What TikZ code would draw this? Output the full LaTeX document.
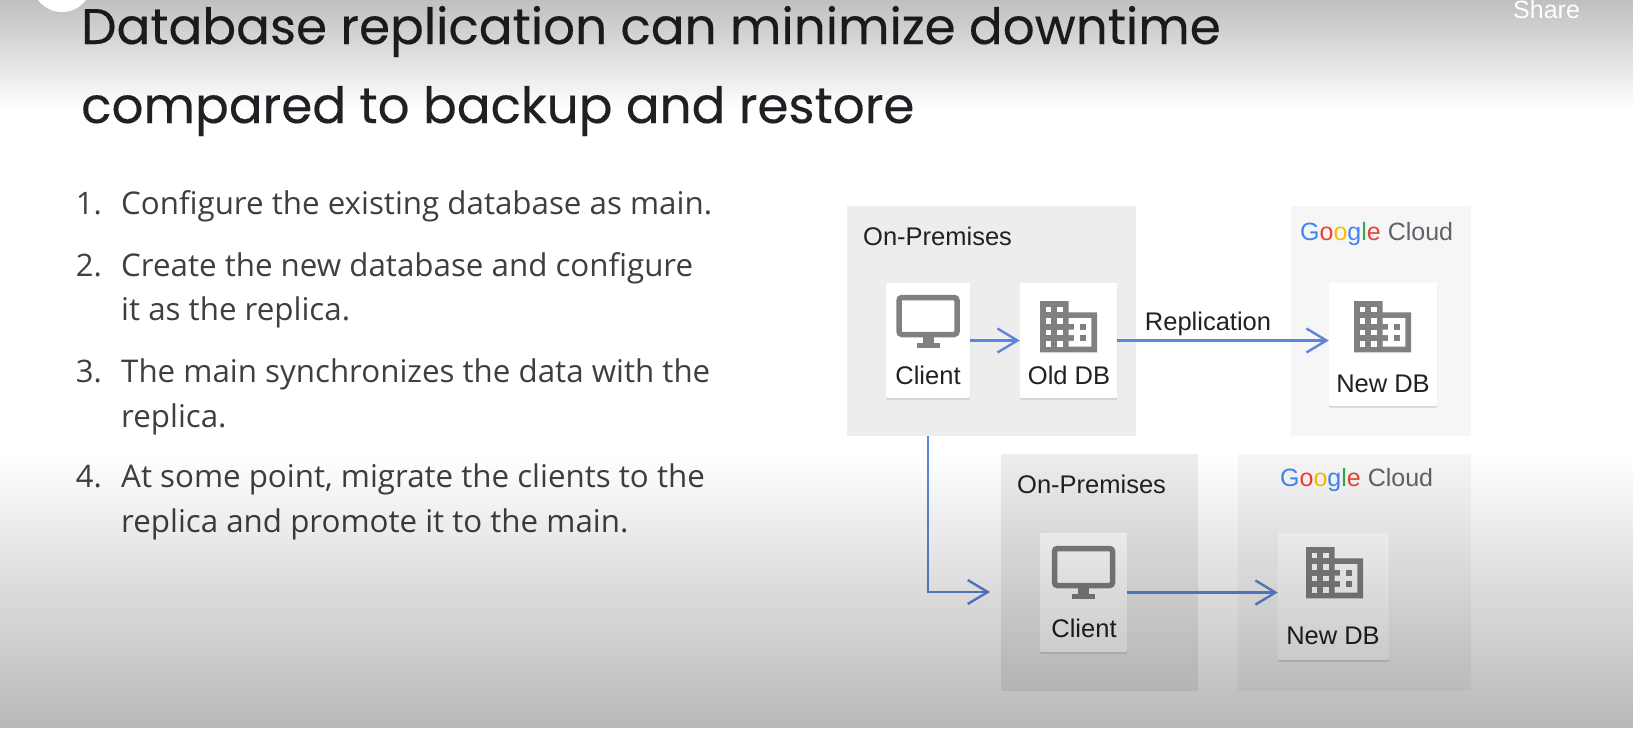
\documentclass[tikz,border=0pt]{standalone}
\usepackage{fontspec}
\setmainfont{Open Sans}
\newfontfamily\titlefont[FakeBold=0.25]{Poppins}
\newfontfamily\labelfont{Liberation Sans}
\usetikzlibrary{arrows.meta,fadings,shadows}
\definecolor{flowblue}{HTML}{5B86DC}
\definecolor{icongrey}{HTML}{808080}
\definecolor{inktext}{HTML}{202124}
\definecolor{stepgrey}{HTML}{3C4043}
\tikzfading[name=topdark,top color=transparent!75,bottom color=transparent!100]
\tikzfading[name=bottomdark,top color=transparent!100,bottom color=transparent!72]
\newcommand{\gcloudword}{{\color[HTML]{4285F4}G}{\color[HTML]{EA4335}o}{\color[HTML]{FBBC05}o}{\color[HTML]{4285F4}g}{\color[HTML]{34A853}l}{\color[HTML]{EA4335}e} {\color[HTML]{5F6368}Cloud}}
\tikzset{
  >={Straight Barb[length=20pt,width=24pt,line width=2.4pt]},
  premises/.style={fill=black,fill opacity=.07,draw=none},
  cloudpanel/.style={fill=black,fill opacity=.035,draw=none},
  card/.style={fill=white,rounded corners=1pt,drop shadow={shadow xshift=0pt,shadow yshift=-1.5pt,opacity=.3}},
  flow/.style={->,draw=flowblue,line width=2.4pt},
  caption/.style={font=\labelfont\fontsize{25.5}{30}\selectfont,text=inktext,anchor=base,inner sep=0pt},
  title/.style={font=\titlefont\fontsize{50}{60}\selectfont,text=inktext,anchor=base west,inner sep=0pt},
  stepnum/.style={font=\fontsize{31}{36}\selectfont,text=stepgrey,anchor=base east,inner sep=0pt},
  steptext/.style={font=\fontsize{31.3}{44.5}\selectfont,text=stepgrey,anchor=base west,inner sep=0pt},
  logo/.style={font=\labelfont\fontsize{25}{32}\selectfont,anchor=base west,inner sep=0pt},
  monitoricon/.pic={
    \draw[icongrey,line width=5.5pt,rounded corners=3pt,fill=white] (-29,-18.5) rectangle (29,18.5);
    \fill[icongrey] (-5.5,21) rectangle (5.5,28);
    \fill[icongrey] (-11.5,27) rectangle (11.5,32);
  },
  buildingicon/.pic={
    \begin{scope}[x=2.85pt,y=-2.85pt]
    \fill[icongrey] (0,0) -- (10,0) -- (10,4) -- (20,4) -- (20,18) -- (0,18) -- cycle;
    \foreach \bx in {2,6}
      \foreach \by in {2,6,10,14}
        \fill[white] (\bx,\by) rectangle +(2,2);
    \fill[white] (18,16) -- (10,16) -- (10,14) -- (12,14) -- (12,12) -- (10,12) -- (10,10)
      -- (12,10) -- (12,8) -- (10,8) -- (10,6) -- (18,6) -- cycle;
    \foreach \by in {8,12}
      \fill[icongrey] (14,\by) rectangle +(2,2);
    \end{scope}
  },
}
\begin{document}
\begin{tikzpicture}[x=1pt,y=-1pt]
  \useasboundingbox (0,0) rectangle (1640,728);
  \fill[white] (0,0) rectangle (1640,728);

  % first row
  \fill[premises] (847,206) rectangle (1136,436);
  \coordinate (premisesab) at (928,436);
  \fill[cloudpanel] (1291,206) rectangle (1471,436);
  \node[card,minimum width=84pt,minimum height=115pt] (clienta) at (928,340.5) {};
  \node[card,minimum width=97pt,minimum height=115pt] (olddb) at (1068.5,340.5) {};
  \node[card,minimum width=108pt,minimum height=123pt] (newdba) at (1383,344.5) {};
  \pic at (928,316) {monitoricon};
  \pic at (1040,301) {buildingicon};
  \pic at (1354,301) {buildingicon};
  \node[caption,anchor=base west] (premlabela) at (863,245) {On-Premises};
  \node[caption] (clientlabela) at (928,384) {Client};
  \node[caption] (oldlabel) at (1069,384) {Old DB};
  \node[caption] (newlabela) at (1383,392) {New DB};
  \node[caption] (repllabel) at (1208,330) {Replication};
  \node[logo] (logoa) at (1300,240) {\gcloudword};

  % second row
  \fill[premises] (1001,454) rectangle (1198,691);
  \fill[cloudpanel] (1238,454) rectangle (1471,691);
  \node[card,minimum width=87pt,minimum height=119pt] (clientb) at (1083.5,592.5) {};
  \node[card,minimum width=111pt,minimum height=127pt] (newdbb) at (1333.5,596.5) {};
  \pic at (1083.5,567) {monitoricon};
  \pic at (1306,547) {buildingicon};
  \node[caption,anchor=base west] (premlabelb) at (1017,493) {On-Premises};
  \node[caption] (clientlabelb) at (1084,637) {Client};
  \node[caption] (newlabelb) at (1333,644) {New DB};
  \node[logo] (logob) at (1280,486) {\gcloudword};

  \coordinate (migrate) at (990,592);
  \draw[flow] (clienta.east) -- (olddb.west);
  \draw[flow] (olddb.east) -- (olddb.east -| newdba.west);
  \draw[flow] (premisesab) |- (migrate);
  \draw[flow] (clientb.east) -- (clientb.east -| newdbb.west);

  % text on the left
  \node[title] (titlea) at (81,44) {Database replication can minimize downtime};
  \node[title] (titleb) at (81,123) {compared to backup and restore};
  \foreach \n/\ny in {1/214,2/276,3/382,4/487}
    \node[stepnum] (num\n) at (102,\ny) {\n.};
  \node[steptext] (stepa) at (121,214) {Configure the existing database as main.};
  \node[steptext] (stepb) at (121,276) {Create the new database and configure};
  \node[steptext] (stepbb) at (121,320) {it as the replica.};
  \node[steptext] (stepc) at (121,382) {The main synchronizes the data with the};
  \node[steptext] (stepcc) at (121,427) {replica.};
  \node[steptext] (stepd) at (121,487) {At some point, migrate the clients to the};
  \node[steptext] (stepdd) at (121,532) {replica and promote it to the main.};

  % player overlay
  \fill[black,path fading=topdark] (0,0) rectangle (1640,110);
  \fill[black,path fading=bottomdark] (0,455) rectangle (1640,728);
  \fill[white] (62,-18) circle (30);
  \node[font=\labelfont\fontsize{25}{30}\selectfont,text=white,anchor=base west,inner sep=0pt] (share) at (1513,18) {Share};
\end{tikzpicture}
\end{document}
